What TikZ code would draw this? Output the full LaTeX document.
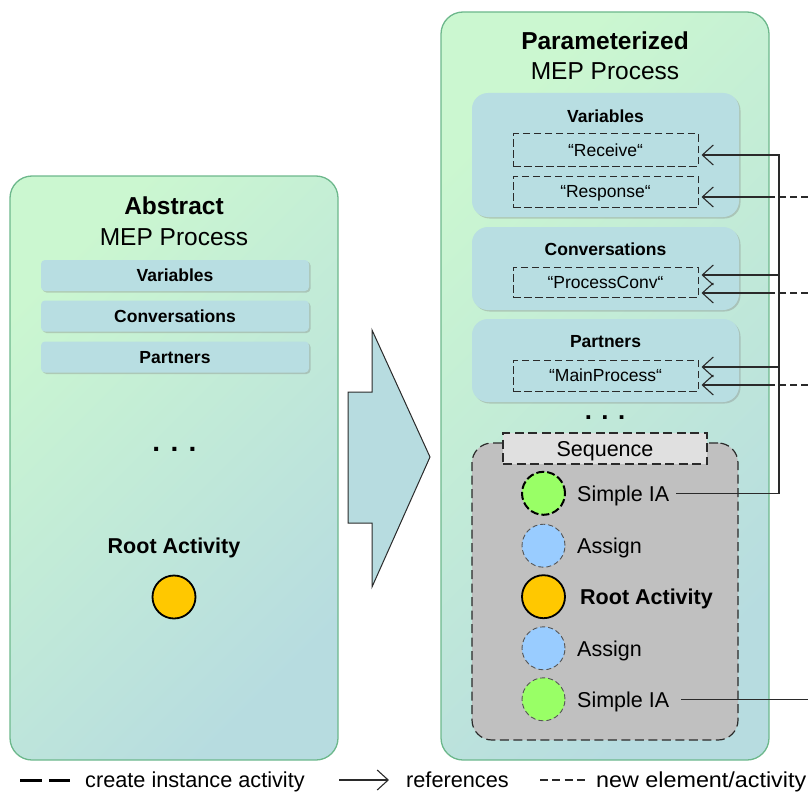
\documentclass[tikz,border=0pt]{standalone}
\usepackage{fontspec}
\setmainfont{Liberation Sans}
\usetikzlibrary{arrows.meta,shadows,calc}

\definecolor{mint}{HTML}{CBF7D0}
\definecolor{seafoam}{HTML}{B7DCE0}
\definecolor{panelfill}{HTML}{B8DEE2}
\definecolor{frame}{HTML}{6DB88C}
\definecolor{seqgray}{HTML}{C0C0C0}
\definecolor{seqlabel}{HTML}{E0E0E0}
\definecolor{iagreen}{HTML}{99FF66}
\definecolor{assignblue}{HTML}{99CCFF}
\definecolor{rootorange}{HTML}{FFC800}
\definecolor{ink}{HTML}{2A2A2A}

\newcommand{\setfs}[1]{\fontsize{#1}{#1}\selectfont}

\begin{document}
\begin{tikzpicture}[x=1pt,y=-1pt,
  procbox/.style={draw=frame, line width=1.3pt, rounded corners=22pt,
    top color=mint, bottom color=seafoam, shading angle=45, inner sep=0pt},
  title/.style={anchor=base, inner sep=0pt, font=\setfs{24.5}},
  bar/.style={fill=panelfill, rounded corners=4pt, minimum width=268pt,
    minimum height=31pt, inner sep=0pt, text height=12.5pt, text depth=0pt,
    font=\setfs{17.5}\bfseries,
    drop shadow={shadow xshift=1.5pt, shadow yshift=-1.5pt, opacity=0.35}},
  panel/.style={fill=panelfill, rounded corners=16pt, minimum width=267pt,
    inner sep=0pt,
    drop shadow={shadow xshift=1.5pt, shadow yshift=-1.5pt, opacity=0.35}},
  panellabel/.style={anchor=base, inner sep=0pt, font=\setfs{17.5}\bfseries},
  slot/.style={draw=ink, line width=1pt, dash pattern=on 7.5pt off 3.5pt,
    minimum width=185pt, inner sep=0pt, text height=12.5pt, text depth=0pt,
    font=\setfs{17.5}},
  dotrow/.style={anchor=base, inner sep=0pt, font=\bfseries},
  circ/.style={circle, minimum size=43pt, inner sep=0pt},
  newcirc/.style={circ, draw=ink!80, line width=0.9pt, dash pattern=on 5pt off 3pt},
  seqtext/.style={anchor=base west, inner sep=0pt, font=\setfs{21.5}},
  refline/.style={draw=ink, line width=1.1pt,
    -{Straight Barb[length=11pt,width=20pt,line width=1.1pt]}},
  plainline/.style={draw=ink, line width=1.1pt},
  newline/.style={draw=ink, line width=1.1pt, dash pattern=on 7pt off 4pt},
  legendtext/.style={anchor=base west, inner sep=0pt, font=\setfs{21.7}}
]
\useasboundingbox (0,0) rectangle (808,797);

% ---------- abstract process ----------
\node[procbox, minimum width=328pt, minimum height=584pt] (abstract) at (174,468) {};
\node[title, font=\setfs{24.5}\bfseries] (absT) at (174,214) {Abstract};
\node[title] (absS) at (174,245) {MEP Process};
\node[bar] (absVar) at (175,275.5) {Variables};
\node[bar] (absConv) at (175,316) {Conversations};
\node[bar] (absPart) at (175,357) {Partners};
\node[dotrow, font=\setfs{28}\bfseries] (absDots) at (174.5,451) {. . .};
\node[anchor=base, inner sep=0pt, font=\setfs{21.5}\bfseries] (absRoot) at (174,553) {Root Activity};
\node[circ, fill=rootorange, draw=black, line width=1.8pt] (absRootC) at (174,597) {};

% ---------- transformation arrow ----------
\draw[fill=seafoam, draw=ink, line width=1pt]
  (348,392) -- (372,392) -- (372,330) -- (430,457) -- (372,587) -- (372,523) -- (348,523) -- cycle;

% ---------- parameterized process ----------
\node[procbox, minimum width=328pt, minimum height=748pt] (param) at (605,386) {};
\node[title, font=\setfs{24.5}\bfseries] (parT) at (605,50) {Parameterized};
\node[title] (parS) at (605,80) {MEP Process};

\node[panel, minimum height=124pt] (pVar) at (605.5,155) {};
\node[panellabel] (pVarL) at (605.5,123) {Variables};
\node[slot, minimum height=32pt] (recv) at (605.5,150) {“Receive“};
\node[slot, minimum height=31pt] (resp) at (605.5,191.5) {“Response“};

\node[panel, minimum height=83pt] (pConv) at (605.5,268.5) {};
\node[panellabel] (pConvL) at (605.5,255) {Conversations};
\node[slot, minimum height=30pt] (pconv) at (605.5,282) {“ProcessConv“};

\node[panel, minimum height=83pt] (pPart) at (605.5,360.5) {};
\node[panellabel] (pPartL) at (605.5,347) {Partners};
\node[slot, minimum height=31pt] (mainp) at (605.5,375.5) {“MainProcess“};

\node[dotrow, font=\setfs{25.7}\bfseries] (parDots) at (605,419) {. . .};

% sequence container
\node[draw=ink, fill=seqgray, line width=1.2pt, dash pattern=on 9pt off 4.5pt,
      rounded corners=20pt, minimum width=266pt, minimum height=297pt] (seq) at (605,591.5) {};
\node[draw=ink, fill=seqlabel, line width=1.1pt, dash pattern=on 9pt off 4.5pt,
      minimum width=204pt, minimum height=31pt, inner sep=0pt,
      text height=15pt, text depth=0pt, font=\setfs{21.5}] (seqL) at (605,448.5) {Sequence};

\node[circ, fill=iagreen, draw=black, line width=2pt, dash pattern=on 8pt off 3pt] (c1) at (543.5,493.3) {};
\node[newcirc, fill=assignblue] (c2) at (543.5,545.7) {};
\node[circ, fill=rootorange, draw=black, line width=1.8pt] (c3) at (543.5,596.7) {};
\node[newcirc, fill=assignblue] (c4) at (543.5,648.3) {};
\node[newcirc, fill=iagreen] (c5) at (543.5,699.3) {};

\node[seqtext] (sia1) at (577,501) {Simple IA};
\node[seqtext] (asg1) at (577,553.4) {Assign};
\node[seqtext, font=\setfs{21.5}\bfseries] (root) at (580,604.4) {Root Activity};
\node[seqtext] (asg2) at (577,656) {Assign};
\node[seqtext] (sia2) at (577,707) {Simple IA};

% ---------- references from the first Simple IA ----------
\coordinate (busB) at (779,493.3);
\coordinate (busT) at (779,155);
\coordinate (busC) at (779,275);
\coordinate (busP) at (779,367);
\draw[refline] ($(c1 -| sia1.east)+(7,0)$) -- (busB) -- (busT) -- ([xshift=3pt,yshift=-5pt]recv.east);
\draw[refline] (busC) -- ([xshift=3pt,yshift=7pt]pconv.east);
\draw[refline] (busP) -- ([xshift=3pt,yshift=8.5pt]mainp.east);

% ---------- new elements entering from the right ----------
\coordinate (xResp) at (808,197);   \coordinate (eResp) at (769,197);
\coordinate (xConv) at (808,293);   \coordinate (eConv) at (769,293);
\coordinate (xPart) at (808,385);   \coordinate (ePart) at (769,385);
\draw[newline] (xResp) -- (eResp);
\draw[newline] (xConv) -- (eConv);
\draw[newline] (xPart) -- (ePart);
\draw[refline] (eResp) -- ([xshift=3pt,yshift=-5.5pt]resp.east);
\draw[refline] (eConv) -- ([xshift=3pt,yshift=-11pt]pconv.east);
\draw[refline] (ePart) -- ([xshift=3pt,yshift=-9.5pt]mainp.east);

% second Simple IA leads out to the right
\coordinate (xSia) at (808,699.3);
\draw[plainline] ($(c5 -| sia2.east)+(12,0)$) -- (xSia);

% ---------- legend ----------
\coordinate (lgA) at (20,780);  \coordinate (lgB) at (70,780);
\draw[draw=black, line width=3pt, dash pattern=on 21.5pt off 7.5pt] (lgA) -- (lgB);
\node[legendtext] (lg1) at (85,787) {create instance activity};
\coordinate (lgC) at (339,780); \coordinate (lgD) at (389,780);
\draw[refline] (lgC) -- (lgD);
\node[legendtext] (lg2) at (406,787) {references};
\coordinate (lgE) at (540,780); \coordinate (lgF) at (585,780);
\draw[newline, dash pattern=on 8pt off 4.3pt] (lgE) -- (lgF);
\node[legendtext] (lg3) at (596,787) {\scalebox{1.075}[1]{new element/activity}};
\end{tikzpicture}
\end{document}
